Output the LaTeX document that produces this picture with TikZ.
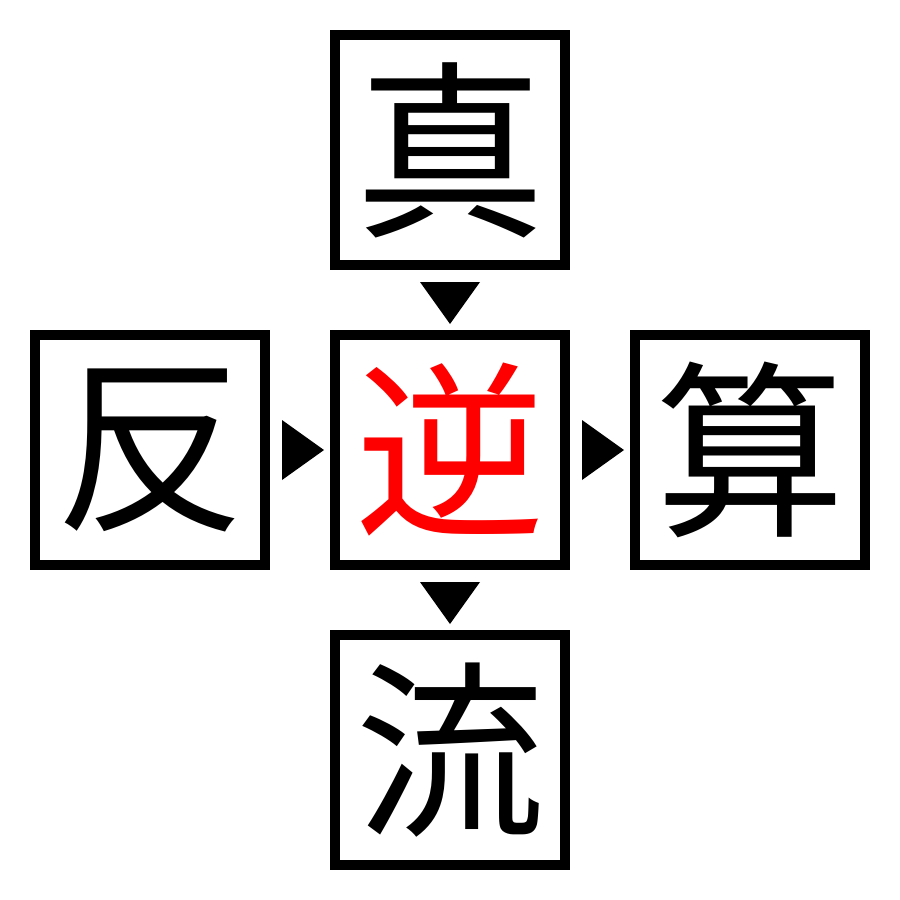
\documentclass[tikz,border=0pt]{standalone}
\usepackage{fontspec}
\usetikzlibrary{calc}
\newfontfamily\cjk{Noto Sans CJK JP}
\begin{document}
\begin{tikzpicture}[x=1pt,y=-1pt,
  cell/.style={draw=black,line width=10pt,minimum size=230pt,inner sep=0pt,
    font=\cjk\fontsize{190}{190}\selectfont},
  tri/.style={fill=black,draw=none}]
\useasboundingbox (0,0) rectangle (900,900);
\node[cell] (top) at (450,150) {真};
\node[cell] (left) at (150,450) {反};
\node[cell,text=red] (mid) at (450,450) {逆};
\node[cell] (right) at (750,450) {算};
\node[cell] (bot) at (450,750) {流};
\path[tri] ($(top.south)+(-30,12)$) -- ($(top.south)+(30,12)$) -- ($(top.south)+(0,54)$) -- cycle;
\path[tri] ($(mid.south)+(-30,12)$) -- ($(mid.south)+(30,12)$) -- ($(mid.south)+(0,54)$) -- cycle;
\path[tri] ($(left.east)+(12,-30)$) -- ($(left.east)+(12,30)$) -- ($(left.east)+(54,0)$) -- cycle;
\path[tri] ($(mid.east)+(12,-30)$) -- ($(mid.east)+(12,30)$) -- ($(mid.east)+(54,0)$) -- cycle;
\end{tikzpicture}
\end{document}
